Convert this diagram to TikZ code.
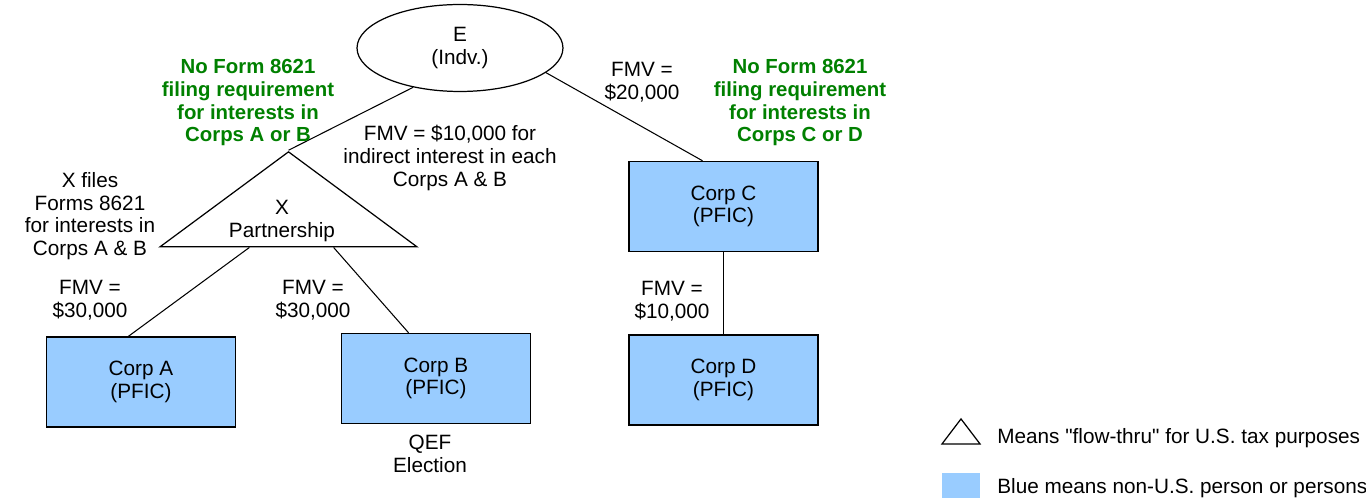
\documentclass[tikz,border=0pt]{standalone}
\usepackage{fontspec}
\setmainfont{Liberation Sans}[Ligatures=TeXOff]
\usetikzlibrary{shapes.geometric, calc}
\definecolor{pficblue}{RGB}{153, 204, 255}
\definecolor{notegreen}{RGB}{0, 128, 0}

\begin{document}
\begin{tikzpicture}[
    x=0.02cm, y=-0.02cm,
    % Define Styles for Consistency
    corp/.style={
        rectangle, draw=black, line width=0.8pt, fill=pficblue,
        minimum width=3.78cm, minimum height=1.8cm, align=center,
        font=\fontsize{11.8}{12.9}\selectfont
    },
    person/.style={
        ellipse, draw=black, line width=0.7pt, fill=white,
        minimum width=4.12cm, minimum height=1.74cm, align=center,
        font=\fontsize{11.8}{12.9}\selectfont
    },
    flowthru/.style={
        isosceles triangle, isosceles triangle stretches,
        shape border rotate=90, draw=black, line width=0.7pt,
        inner sep=0pt
    },
    link/.style={
        draw=black, line width=0.6pt
    },
    fmvtext/.style={
        align=center, inner sep=0pt, font=\fontsize{11.8}{12.9}\selectfont
    },
    notetext/.style={
        align=center, inner sep=0pt, text=notegreen,
        font=\fontsize{11.6}{12.9}\selectfont\bfseries
    },
    legendtext/.style={
        anchor=west, inner sep=0pt, font=\fontsize{11.8}{12.9}\selectfont
    }
]
    \useasboundingbox (0,0) rectangle (1366,499);

    % --- 1. The Owner and the Partnership ---

    \node[person] (E) at (460, 48) {E\\(Indv.)};

    \node[flowthru, minimum width=5.14cm, minimum height=1.9cm] (X) at (288.5, 204.5) {};
    \node[fmvtext] (Xname) at (282, 221) {X\\Partnership};

    % --- 2. The Foreign Corporations ---

    \node[corp] (corpA) at (141, 382) {Corp A\\(PFIC)};
    \node[corp] (corpB) at (436, 378.5) {Corp B\\(PFIC)};
    \node[corp] (corpC) at (723.5, 206.5) {Corp C\\(PFIC)};
    \node[corp] (corpD) at (723.5, 380) {Corp D\\(PFIC)};

    % --- 3. Ownership Lines ---

    % E owns X and Corp C
    \draw[link] (E.220) -- (X.apex);
    \draw[link] (E.-16) -- ($(corpC.north west)!0.39!(corpC.north east)$);

    % X owns Corps A and B
    \draw[link] ($(X.left corner)!0.35!(X.right corner)$) -- ($(corpA.north west)!0.434!(corpA.north east)$);
    \draw[link] ($(X.left corner)!0.673!(X.right corner)$) -- ($(corpB.north west)!0.356!(corpB.north east)$);

    % Corp C owns Corp D
    \draw[link] (corpC) -- (corpD);

    % --- 4. Values and Annotations ---

    \node[fmvtext] (fmvX) at (450, 158) {FMV = \$10,000 for\\indirect interest in each\\Corps A \& B};
    \node[fmvtext] (fmvC) at (642, 82) {FMV =\\\$20,000};
    \node[fmvtext] (fmvA) at (90, 300) {FMV =\\\$30,000};
    \node[fmvtext] (fmvB) at (313, 300) {FMV =\\\$30,000};
    \node[fmvtext] (fmvD) at (672, 301) {FMV =\\\$10,000};

    \node[fmvtext] (xfiles) at (90, 216) {X files\\Forms 8621\\for interests in\\Corps A \& B};
    \node[fmvtext] (qef) at (430, 454) {QEF\\Election};

    \node[notetext] (noteAB) at (248, 103) {No Form 8621\\filing requirement\\for interests in\\Corps A or B};
    \node[notetext] (noteCD) at (800, 103) {No Form 8621\\filing requirement\\for interests in\\Corps C or D};

    % --- 5. Legend ---

    \node[flowthru, minimum width=0.76cm, minimum height=0.5cm] (keytri) at (961, 434.5) {};
    \node[legendtext] (keytritext) at (997, 438) {Means "flow-thru" for U.S. tax purposes};

    \node[rectangle, fill=pficblue, minimum width=0.76cm, minimum height=0.52cm, inner sep=0pt] (keybox) at (961, 485.5) {};
    \node[legendtext] (keyboxtext) at (997, 488) {Blue means non-U.S. person or persons};

\end{tikzpicture}
\end{document}
